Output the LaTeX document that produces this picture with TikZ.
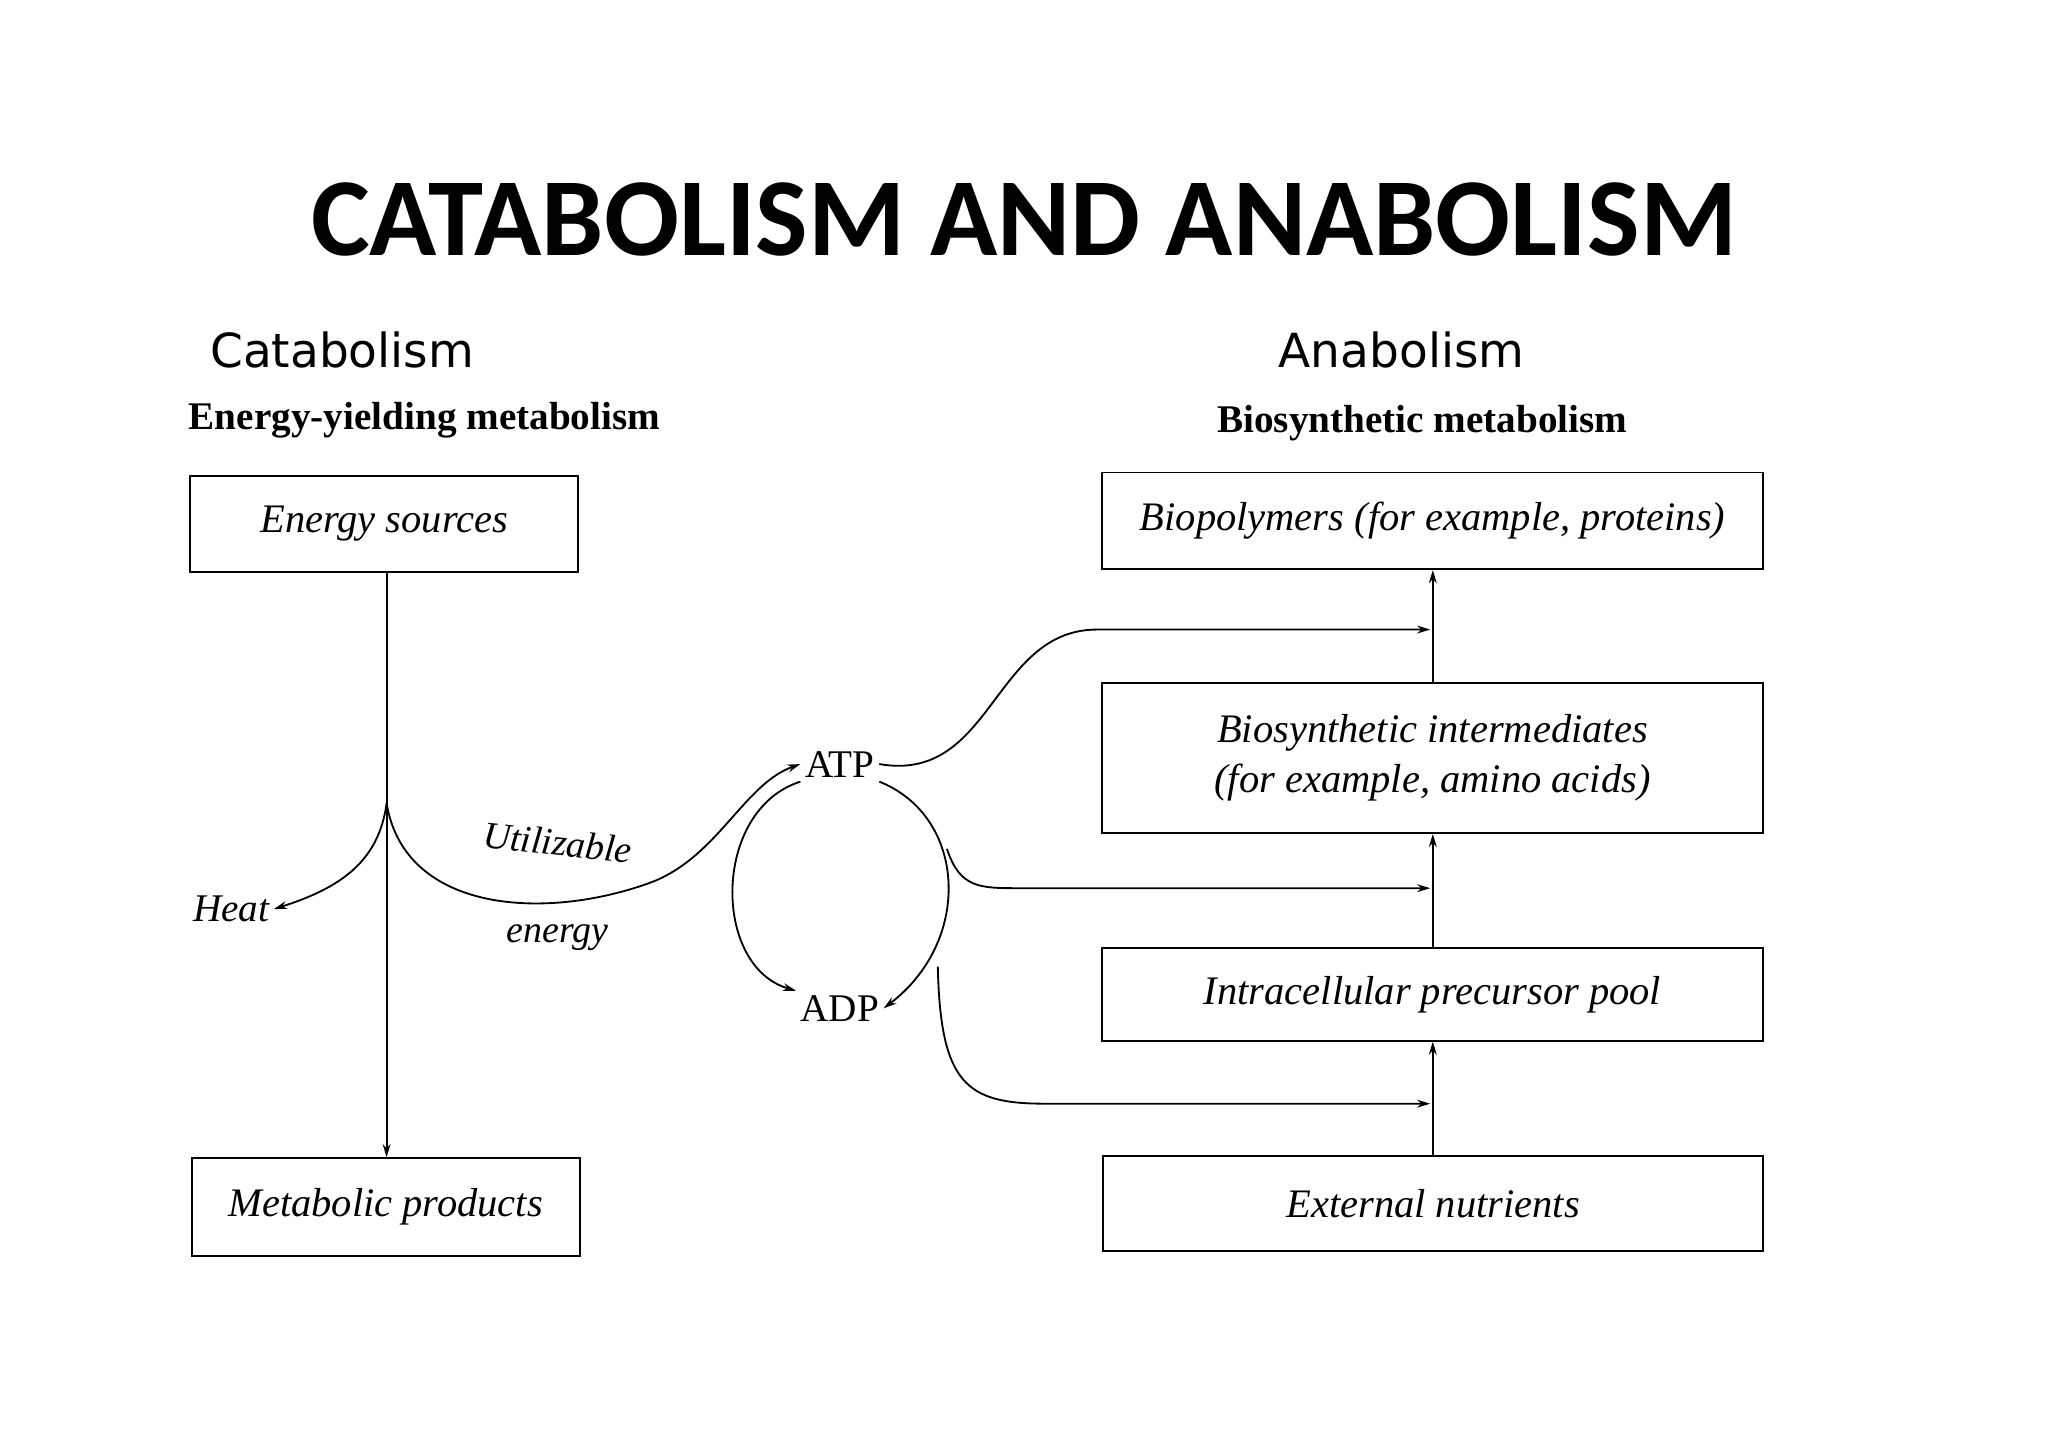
\documentclass[tikz,border=0pt]{standalone}
\usepackage{fontspec}
\setmainfont{Liberation Serif}
\newfontfamily\titlef{Carlito}
\newfontfamily\lightf{DejaVu Sans}
\usetikzlibrary{arrows.meta}
\begin{document}
\begin{tikzpicture}[x=1pt,y=-1pt,
 box/.style={draw,line width=1.5pt,anchor=north west,inner sep=0pt,font=\fontsize{31}{38}\selectfont\itshape,align=center},
 ln/.style={line width=1.4pt},
 ar/.style={line width=1.4pt,-{Stealth[length=10pt,width=6pt]}}]
\useasboundingbox (0,0) rectangle (1568,1108);
\node (title) at (784,168) {\titlef\bfseries\fontsize{85}{95}\selectfont CATABOLISM AND ANABOLISM};
\node (cat) at (262,268) {\lightf\fontsize{36}{40}\selectfont Catabolism};
\node (ana) at (1073,268) {\lightf\fontsize{36}{40}\selectfont Anabolism};
\node (cat2) at (325,322) {\bfseries\fontsize{30}{34}\selectfont Energy-yielding metabolism};
\node (ana2) at (1089,324) {\bfseries\fontsize{30}{34}\selectfont Biosynthetic metabolism};
\node[box,minimum width=297pt,minimum height=73pt] (es) at (145,364) {Energy sources};
\node[box,minimum width=297pt,minimum height=75pt] (mp) at (146,886) {Metabolic products};
\node[box,minimum width=506pt,minimum height=74pt] (bp) at (843,361) {Biopolymers (for example, proteins)};
\node[box,minimum width=506pt,minimum height=115pt] (bi) at (843,522) {Biosynthetic intermediates\\(for example, amino acids)};
\node[box,minimum width=506pt,minimum height=71pt] (ip) at (843,725) {Intracellular precursor pool};
\node[box,minimum width=505pt,minimum height=73pt] (en) at (844,884) {External nutrients};
\node[font=\fontsize{30}{36}\selectfont\itshape] (heat) at (177,696) {Heat};
\node[font=\fontsize{30}{36}\selectfont] (atp) at (643,585) {ATP};
\node[font=\fontsize{30}{36}\selectfont] (adp) at (643,772) {ADP};
\node[font=\fontsize{29}{34}\selectfont\itshape,rotate=-6,inner sep=1pt] (ue1) at (427,645) {Utilizable};
\node[font=\fontsize{29}{34}\selectfont\itshape] (ue2) at (427,718) {energy};
\coordinate (br) at (296,615);
\draw[ar] (es.south -| br) -- (mp.north -| br);
\draw[ar] (br) .. controls (290,660) and (260,680) .. (heat.east);
\draw[ar] (br) .. controls (310,700) and (420,705) .. (500,675) .. controls (550,655) and (570,600) .. (atp.west);
\draw[ar] (atp.south west) .. controls (545,620) and (545,740) .. (adp.north west);
\draw[ar] (atp.south east) .. controls (740,625) and (745,720) .. (adp.east);
\draw[ar] (atp.east) .. controls (760,600) and (760,482) .. (840,482) -- (1095,482);
\draw[ar] (725,650) .. controls (735,680) and (750,680) .. (780,680) -- (1095,680);
\draw[ar] (718,740) .. controls (720,830) and (740,845) .. (800,845) -- (1095,845);
\draw[ar] (en.north -| 1097,0) -- (ip.south -| 1097,0);
\draw[ar] (ip.north -| 1097,0) -- (bi.south -| 1097,0);
\draw[ar] (bi.north -| 1097,0) -- (bp.south -| 1097,0);
\end{tikzpicture}
\end{document}
